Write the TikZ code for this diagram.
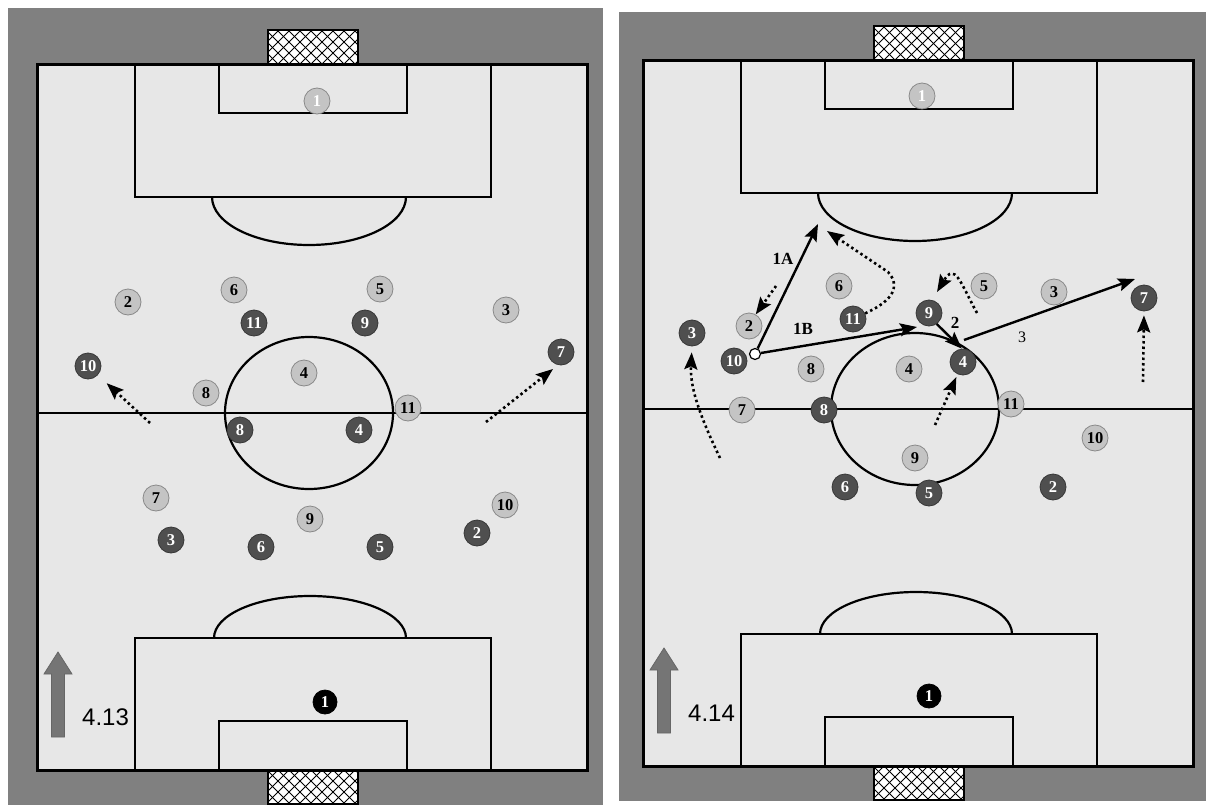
\documentclass[tikz,border=0pt]{standalone}
\usepackage{fontspec}
\setmainfont{Liberation Serif}
\newfontfamily\figfont{Liberation Sans}
\usetikzlibrary{arrows.meta}
\definecolor{boardgray}{gray}{0.5}
\definecolor{turf}{gray}{0.905}
\definecolor{lightkit}{gray}{0.77}
\definecolor{darkkit}{gray}{0.31}
\definecolor{upgray}{gray}{0.46}

\begin{document}
\begin{tikzpicture}[x=1pt,y=-1pt,
    pitchline/.style={black,line width=2.6pt},
    pl/.style={circle,fill=lightkit,draw=lightkit!70!black,line width=0.8pt,minimum size=26pt,inner sep=0pt,font=\fontsize{16.5}{16.5}\selectfont\bfseries},
    pd/.style={pl,fill=darkkit,draw=darkkit!70!black,text=white},
    keeper/.style={pl,fill=black,draw=black,text=white,minimum size=24pt},
    run/.style={line width=2.6pt,dash pattern=on 2.5pt off 3pt,-{Stealth[length=17pt,width=13pt,inset=3pt]}},
    pass/.style={line width=2.4pt,-{Stealth[length=17pt,width=13pt,inset=3pt]}},
    lab/.style={inner sep=0pt,font=\fontsize{17}{17}\selectfont\bfseries}]
    % boards
    \fill[white] (0,0) rectangle (1206,805);
    \fill[boardgray] (8,8) rectangle (603,805);
    \fill[boardgray] (619,12) rectangle (1206,801);
    % the two pitches
    \foreach \dx/\dy/\fig in {0/0/4.13,606/-4/4.14}{
        \begin{scope}[shift={(\dx,\dy)}]
            \foreach \gy in {30,769}{
                \fill[white] (268,\gy) rectangle (358,\gy+35);
                \begin{scope}
                    \clip (268,\gy) rectangle (358,\gy+35);
                    \foreach \k in {233,244,...,360}{
                        \draw[line width=0.8pt] (\k,\gy) -- ++(35,35);
                        \draw[line width=0.8pt] (\k+35,\gy) -- ++(-35,35);
                    }
                \end{scope}
                \draw[line width=2.5pt] (268,\gy) rectangle (358,\gy+35);
            }
            \filldraw[fill=turf,line width=3pt] (37,65) rectangle (587,770);
            \draw[pitchline] (135,65) rectangle (491,197) (219,65) rectangle (407,113);
            \draw[pitchline] (135,638) rectangle (491,770) (219,721) rectangle (407,770);
            \draw[pitchline] (37,413) -- (587,413);
            \draw[line width=2.2pt] (309,413) ellipse[x radius=84,y radius=76];
            \draw[line width=2.2pt] (406,197) arc[start angle=0,end angle=180,x radius=97,y radius=48];
            \draw[line width=2.2pt] (406,638) arc[start angle=0,end angle=-180,x radius=96,y radius=42];
            \filldraw[fill=upgray,draw=black!60,line width=0.8pt] (58,652) -- (72,674) -- (64.5,674) -- (64.5,737) -- (51.5,737) -- (51.5,674) -- (44,674) -- cycle;
            \node[font=\figfont\fontsize{24}{24}\selectfont,anchor=west,inner sep=0pt] (figlabel) at (82,717) {\fig};
        \end{scope}
    }
    % left pitch
    \foreach \n/\x/\y in {2/128/302,6/234/290,5/380/289,3/506/310,4/304/373,8/206/393,11/408/408,7/156/498,9/310/519,10/505/505}
        \node[pl] (ll\n) at (\x,\y) {\n};
    \node[pl,text=white] (ll1) at (317,101) {1};
    \foreach \n/\x/\y in {11/254/323,9/365/323,7/561/352,10/88/366,8/240/430,4/359/430,3/171/540,6/261/547,5/380/547,2/477/533}
        \node[pd] (ld\n) at (\x,\y) {\n};
    \node[keeper] (ld1) at (325,702) {1};
    \coordinate (lt10) at (150,423);
    \coordinate (lt7) at (486,422);
    \coordinate (lh7) at (553,369);
    \draw[run,shorten >=12pt] (lt10) -- (ld10);
    \draw[run] (lt7) -- (lh7);
    % right pitch
    \foreach \n/\x/\y in {2/749/326,6/839/286,8/811/369,4/909/369,5/984/286,3/1054/292,7/742/410,11/1011/404,10/1095/438,9/915/458}
        \node[pl] (rl\n) at (\x,\y) {\n};
    \node[pl,text=white] (rl1) at (922,96) {1};
    \foreach \n/\x/\y in {3/692/333,10/734/361,11/853/319,9/929/313,4/963/362,7/1144/298,8/824/410,6/845/487,5/929/493,2/1053/487}
        \node[pd] (rd\n) at (\x,\y) {\n};
    \node[keeper] (rd1) at (929,696) {1};
    \node[circle,fill=white,draw=black,line width=1.2pt,minimum size=11pt,inner sep=0pt] (ball) at (755,354) {};
    \coordinate (h1A) at (818,224);
    \coordinate (h1B) at (917,327);
    \coordinate (t3) at (964,340);
    \coordinate (h3) at (1135,279);
    \coordinate (t2) at (776,286);
    \coordinate (h11) at (827,231);
    \coordinate (t5) at (977,313);
    \coordinate (h5) at (937,292);
    \coordinate (t4) at (935,425);
    \coordinate (t3run) at (720,458);
    \coordinate (t7) at (1143,382);
    \draw[pass] (ball) -- (h1A);
    \draw[pass] (ball) -- (h1B);
    \draw[pass] (rd9.-55) -- (rd4.95);
    \draw[pass] (t3) -- (h3);
    \draw[run] (t2) -- (rl2.60);
    \draw[run] (rd11.25) .. controls (895,300) and (900,285) .. (888,272) -- (h11);
    \draw[run] (t5) .. controls (960,282) and (955,262) .. (h5);
    \draw[run,shorten >=3pt] (t4) -- (rd4);
    \draw[run,shorten >=6pt] (t3run) .. controls (697,410) and (690,385) .. (rd3.south);
    \draw[run,shorten >=4pt] (t7) -- (rd7.south);
    \node[lab] (n1A) at (783,259) {1A};
    \node[lab] (n1B) at (803,329) {1B};
    \node[lab] (n2) at (955,323) {2};
    \node[lab,font=\fontsize{16}{16}\selectfont] (n3) at (1022,337) {3};
\end{tikzpicture}
\end{document}
